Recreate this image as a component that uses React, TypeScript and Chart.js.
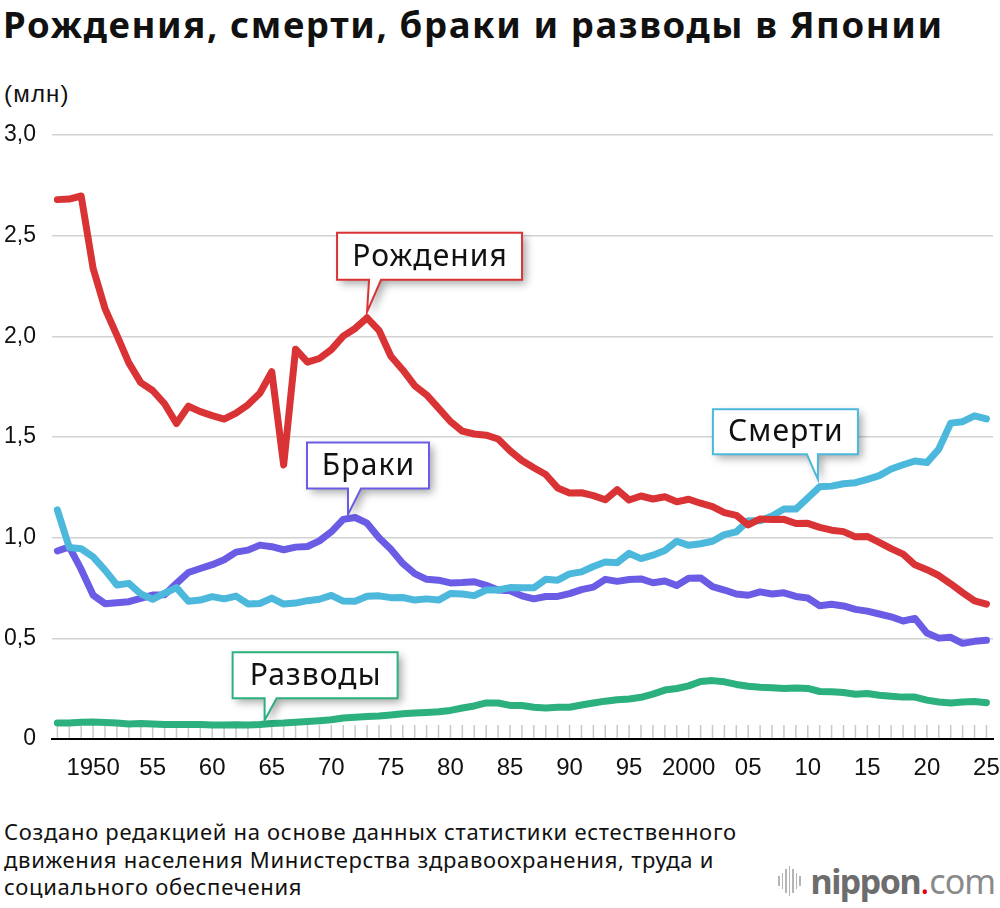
import React, { useEffect, useRef } from "react";
import { Chart, registerables } from "chart.js";
Chart.register(...registerables);

const years = [
  1947, 1948, 1949, 1950, 1951, 1952, 1953, 1954, 1955, 1956, 1957, 1958, 1959,
  1960, 1961, 1962, 1963, 1964, 1965, 1966, 1967, 1968, 1969, 1970, 1971, 1972,
  1973, 1974, 1975, 1976, 1977, 1978, 1979, 1980, 1981, 1982, 1983, 1984, 1985,
  1986, 1987, 1988, 1989, 1990, 1991, 1992, 1993, 1994, 1995, 1996, 1997, 1998,
  1999, 2000, 2001, 2002, 2003, 2004, 2005, 2006, 2007, 2008, 2009, 2010, 2011,
  2012, 2013, 2014, 2015, 2016, 2017, 2018, 2019, 2020, 2021, 2022, 2023, 2024,
  2025,
];

// million persons
const births = [
  2.679, 2.682, 2.697, 2.338, 2.138, 2.005, 1.868, 1.77, 1.731, 1.665, 1.567, 1.653, 1.626,
  1.606, 1.589, 1.619, 1.66, 1.717, 1.824, 1.361, 1.936, 1.872, 1.89, 1.934, 2.001, 2.039,
  2.092, 2.03, 1.901, 1.833, 1.755, 1.709, 1.643, 1.577, 1.529, 1.515, 1.509, 1.49, 1.432,
  1.383, 1.347, 1.314, 1.247, 1.222, 1.223, 1.209, 1.188, 1.238, 1.187, 1.207, 1.192, 1.203,
  1.178, 1.191, 1.171, 1.154, 1.124, 1.111, 1.063, 1.093, 1.09, 1.091, 1.07, 1.071, 1.051,
  1.037, 1.03, 1.004, 1.006, 0.977, 0.946, 0.918, 0.865, 0.841, 0.812, 0.771, 0.727, 0.686,
  0.67,
];

const deaths = [
  1.138, 0.951, 0.945, 0.905, 0.839, 0.765, 0.773, 0.721, 0.694, 0.724, 0.752, 0.684, 0.69,
  0.707, 0.696, 0.71, 0.671, 0.673, 0.7, 0.67, 0.675, 0.687, 0.694, 0.713, 0.685, 0.684,
  0.709, 0.711, 0.702, 0.703, 0.69, 0.696, 0.69, 0.723, 0.72, 0.712, 0.74, 0.74, 0.752,
  0.751, 0.751, 0.793, 0.789, 0.82, 0.83, 0.857, 0.879, 0.876, 0.922, 0.896, 0.913, 0.936,
  0.982, 0.962, 0.97, 0.982, 1.015, 1.029, 1.084, 1.084, 1.108, 1.142, 1.142, 1.197, 1.253,
  1.256, 1.268, 1.273, 1.29, 1.308, 1.341, 1.362, 1.381, 1.373, 1.44, 1.569, 1.576, 1.605,
  1.59,
];

const marriages = [
  0.934, 0.954, 0.842, 0.715, 0.672, 0.677, 0.682, 0.698, 0.715, 0.716, 0.773, 0.827, 0.847,
  0.866, 0.89, 0.928, 0.938, 0.963, 0.955, 0.94, 0.953, 0.956, 0.984, 1.029, 1.091, 1.1,
  1.072, 1.0, 0.942, 0.872, 0.821, 0.793, 0.789, 0.775, 0.777, 0.781, 0.763, 0.74, 0.736,
  0.711, 0.696, 0.708, 0.708, 0.722, 0.742, 0.754, 0.793, 0.783, 0.792, 0.795, 0.776, 0.785,
  0.762, 0.798, 0.8, 0.757, 0.74, 0.72, 0.714, 0.731, 0.72, 0.726, 0.708, 0.7, 0.662,
  0.669, 0.661, 0.644, 0.635, 0.621, 0.607, 0.586, 0.599, 0.526, 0.501, 0.505, 0.475, 0.485,
  0.49,
];

const divorces = [
  0.08, 0.079, 0.083, 0.084, 0.082, 0.079, 0.075, 0.077, 0.075, 0.072, 0.072, 0.072, 0.072,
  0.069, 0.069, 0.071, 0.07, 0.072, 0.077, 0.079, 0.083, 0.087, 0.091, 0.096, 0.104, 0.108,
  0.112, 0.114, 0.119, 0.125, 0.129, 0.132, 0.135, 0.142, 0.154, 0.164, 0.179, 0.179, 0.167,
  0.166, 0.158, 0.154, 0.158, 0.158, 0.169, 0.179, 0.188, 0.195, 0.199, 0.207, 0.223, 0.243,
  0.251, 0.264, 0.286, 0.29, 0.284, 0.271, 0.262, 0.257, 0.255, 0.251, 0.253, 0.251, 0.236,
  0.235, 0.231, 0.222, 0.226, 0.217, 0.212, 0.208, 0.208, 0.193, 0.184, 0.179, 0.184, 0.186,
  0.18,
];

const seriesNames = ["Рождения", "Смерти", "Браки", "Разводы"];

const xTickYears = [1950, 1955, 1960, 1965, 1970, 1975, 1980, 1985, 1990, 1995, 2000, 2005, 2010, 2015, 2020, 2025];
const xTickLabels = ["1950", "55", "60", "65", "70", "75", "80", "85", "90", "95", "2000", "05", "10", "15", "20", "25"];
const yTickValues = [0, 0.5, 1, 1.5, 2, 2.5, 3];
const yTickLabels = ["0", "0,5", "1,0", "1,5", "2,0", "2,5", "3,0"];

const RED = "#d93335";
const CYAN = "#4cb8dc";
const PURPLE = "#6b5ce6";
const GREEN = "#2bb07e";

// callout annotations: anchored at (year, value), offsets in px
const callouts = [
  { text: seriesNames[0], color: RED, year: 1973, value: 2.092, tipDy: -6, boxDx: -30, boxW: 185, boxH: 47, gap: 32, tailL: 2, tailR: 14 },
  { text: seriesNames[2], color: PURPLE, year: 1971.4, value: 1.095, tipDy: -4, boxDx: -41, boxW: 122, boxH: 46, gap: 26, tailL: 0, tailR: 13 },
  { text: seriesNames[1], color: CYAN, year: 2010.85, value: 1.245, tipDy: -9, boxDx: -105, boxW: 145, boxH: 45, gap: 25, tailL: -11, tailR: 0 },
  { text: seriesNames[3], color: GREEN, year: 1964.4, value: 0.073, tipDy: -4, boxDx: -32, boxW: 165, boxH: 46, gap: 22, tailL: 0, tailR: 12 },
];

const TICK_FONT = '"Liberation Sans", Arial, Helvetica, sans-serif';
const TEXT_FONT = '"Noto Sans", "Open Sans", sans-serif';

const yearTicksPlugin = {
  id: "yearTicks",
  beforeDatasetsDraw(chart: any) {
    const { ctx, chartArea, scales } = chart;
    ctx.save();
    ctx.strokeStyle = "#c8c8c8";
    ctx.lineWidth = 1.5;
    years.forEach((yr) => {
      const px = scales.x.getPixelForValue(yr);
      ctx.beginPath();
      ctx.moveTo(px, chartArea.bottom - 14);
      ctx.lineTo(px, chartArea.bottom - 1);
      ctx.stroke();
    });
    ctx.restore();
  },
};

const calloutPlugin = {
  id: "callouts",
  afterDatasetsDraw(chart: any) {
    const { ctx, scales } = chart;
    callouts.forEach((c) => {
      const tipX = scales.x.getPixelForValue(c.year);
      const tipY = scales.y.getPixelForValue(c.value) + c.tipDy;
      const bottom = tipY - c.gap;
      const top = bottom - c.boxH;
      const left = tipX + c.boxDx;
      const right = left + c.boxW;
      const path = () => {
        ctx.beginPath();
        ctx.moveTo(left, top);
        ctx.lineTo(right, top);
        ctx.lineTo(right, bottom);
        ctx.lineTo(tipX + c.tailR, bottom);
        ctx.lineTo(tipX, tipY);
        ctx.lineTo(tipX + c.tailL, bottom);
        ctx.lineTo(left, bottom);
        ctx.closePath();
      };
      ctx.save();
      ctx.shadowColor = "rgba(0,0,0,0.35)";
      ctx.shadowBlur = 9;
      ctx.shadowOffsetX = 4;
      ctx.shadowOffsetY = 4;
      path();
      ctx.fillStyle = "#ffffff";
      ctx.fill();
      ctx.restore();
      ctx.save();
      path();
      ctx.lineWidth = 2;
      ctx.strokeStyle = c.color;
      ctx.lineJoin = "miter";
      ctx.stroke();
      ctx.fillStyle = "#111";
      ctx.font = `30px ${TEXT_FONT}`;
      (ctx as any).letterSpacing = "1.1px";
      ctx.textAlign = "center";
      ctx.textBaseline = "middle";
      ctx.fillText(c.text, (left + right) / 2 + 0.5, (top + bottom) / 2 + 1);
      ctx.restore();
    });
  },
};

const toPoints = (vals: number[]) => vals.map((v, i) => ({ x: years[i], y: v }));

export default function App() {
  const ref = useRef<HTMLCanvasElement>(null);

  useEffect(() => {
    const mk = (label: string, data: number[], color: string) => ({
      label,
      data: toPoints(data),
      borderColor: color,
      backgroundColor: color,
      borderWidth: 7,
      pointRadius: 0,
      pointHoverRadius: 0,
      tension: 0,
      fill: false,
      borderCapStyle: "round" as const,
      borderJoinStyle: "round" as const,
    });
    const chart = new Chart(ref.current!, {
      type: "line",
      data: {
        datasets: [
          mk(seriesNames[0], births, RED),
          mk(seriesNames[1], deaths, CYAN),
          mk(seriesNames[2], marriages, PURPLE),
          mk(seriesNames[3], divorces, GREEN),
        ],
      },
      options: {
        responsive: false,
        animation: false,
        layout: { padding: { top: 25, right: 7, bottom: 0, left: 0 } },
        plugins: {
          legend: { display: false },
          tooltip: { enabled: false },
        },
        scales: {
          x: {
            type: "linear",
            min: 1946.55,
            max: 2025.55,
            afterBuildTicks: (s: any) => {
              s.ticks = xTickYears.map((v) => ({ value: v }));
            },
            afterFit: (s: any) => {
              s.height = 71;
              s.paddingLeft = 0;
              s.paddingRight = 0;
            },
            grid: { display: false, drawTicks: false },
            border: { display: true, color: "#000", width: 2 },
            ticks: {
              autoSkip: false,
              maxRotation: 0,
              padding: 15,
              color: "#111",
              font: { family: TICK_FONT, size: 24 },
              callback: (v: any) => {
                const i = xTickYears.indexOf(Number(v));
                return i >= 0 ? xTickLabels[i] : "";
              },
            },
          },
          y: {
            min: 0,
            max: 3,
            afterBuildTicks: (s: any) => {
              s.ticks = yTickValues.map((v) => ({ value: v }));
            },
            afterFit: (s: any) => {
              s.width = 52;
              s.paddingTop = 0;
              s.paddingBottom = 0;
            },
            grid: { color: "#d2d2d2", lineWidth: 1.5, drawTicks: false },
            border: { display: false },
            ticks: {
              padding: 16,
              color: "#111",
              font: { family: TICK_FONT, size: 23 },
              callback: (v: any) => {
                const i = yTickValues.indexOf(Number(v));
                return i >= 0 ? yTickLabels[i] : "";
              },
            },
          },
        },
      },
      plugins: [yearTicksPlugin, calloutPlugin],
    } as any);
    return () => chart.destroy();
  }, []);

  const bars = [10, 16, 24, 30, 24, 16, 10];

  return (
    <div
      style={{
        position: "absolute",
        left: 0,
        top: 0,
        width: 1000,
        height: 908,
        background: "#fff",
        overflow: "hidden",
      }}
    >
      <div
        style={{
          position: "absolute",
          left: 3,
          top: 4,
          fontFamily: TEXT_FONT,
          fontWeight: 700,
          fontSize: 36.5,
          letterSpacing: 1.6,
          lineHeight: "40px",
          color: "#111",
          whiteSpace: "nowrap",
        }}
      >
        Рождения, смерти, браки и разводы в Японии
      </div>
      <div
        style={{
          position: "absolute",
          left: 4,
          top: 81,
          fontFamily: TICK_FONT,
          fontSize: 24,
          letterSpacing: 1.2,
          lineHeight: "26px",
          color: "#111",
        }}
      >
        (млн)
      </div>
      <canvas
        ref={ref}
        width={1000}
        height={700}
        style={{ position: "absolute", left: 0, top: 110, width: 1000, height: 700 }}
      />
      <div
        style={{
          position: "absolute",
          left: 4,
          top: 818,
          fontFamily: TEXT_FONT,
          fontSize: 22,
          letterSpacing: 0.7,
          lineHeight: "27.5px",
          color: "#111",
          whiteSpace: "nowrap",
        }}
      >
        Создано редакцией на основе данных статистики естественного
        <br />
        движения населения Министерства здравоохранения, труда и
        <br />
        социального обеспечения
      </div>
      <div
        style={{
          position: "absolute",
          right: 5,
          top: 858,
          display: "flex",
          alignItems: "center",
          height: 46,
        }}
      >
        <div style={{ display: "flex", alignItems: "center", gap: 2, marginRight: 10 }}>
          {bars.map((h, i) => (
            <div key={i} style={{ width: 1.5, height: h, background: "#b5b5b5" }} />
          ))}
        </div>
        <span
          style={{
            fontFamily: TEXT_FONT,
            fontSize: 34,
            fontWeight: 700,
            letterSpacing: -1.5,
            color: "#6d6d6d",
            lineHeight: "46px",
          }}
        >
          nippon
        </span>
        <span
          style={{
            fontFamily: TEXT_FONT,
            fontSize: 34,
            fontWeight: 400,
            color: "#e60012",
            lineHeight: "46px",
          }}
        >
          .
        </span>
        <span
          style={{
            fontFamily: TEXT_FONT,
            fontSize: 34,
            fontWeight: 400,
            letterSpacing: -1,
            color: "#8a8a8a",
            lineHeight: "46px",
          }}
        >
          com
        </span>
      </div>
    </div>
  );
}
